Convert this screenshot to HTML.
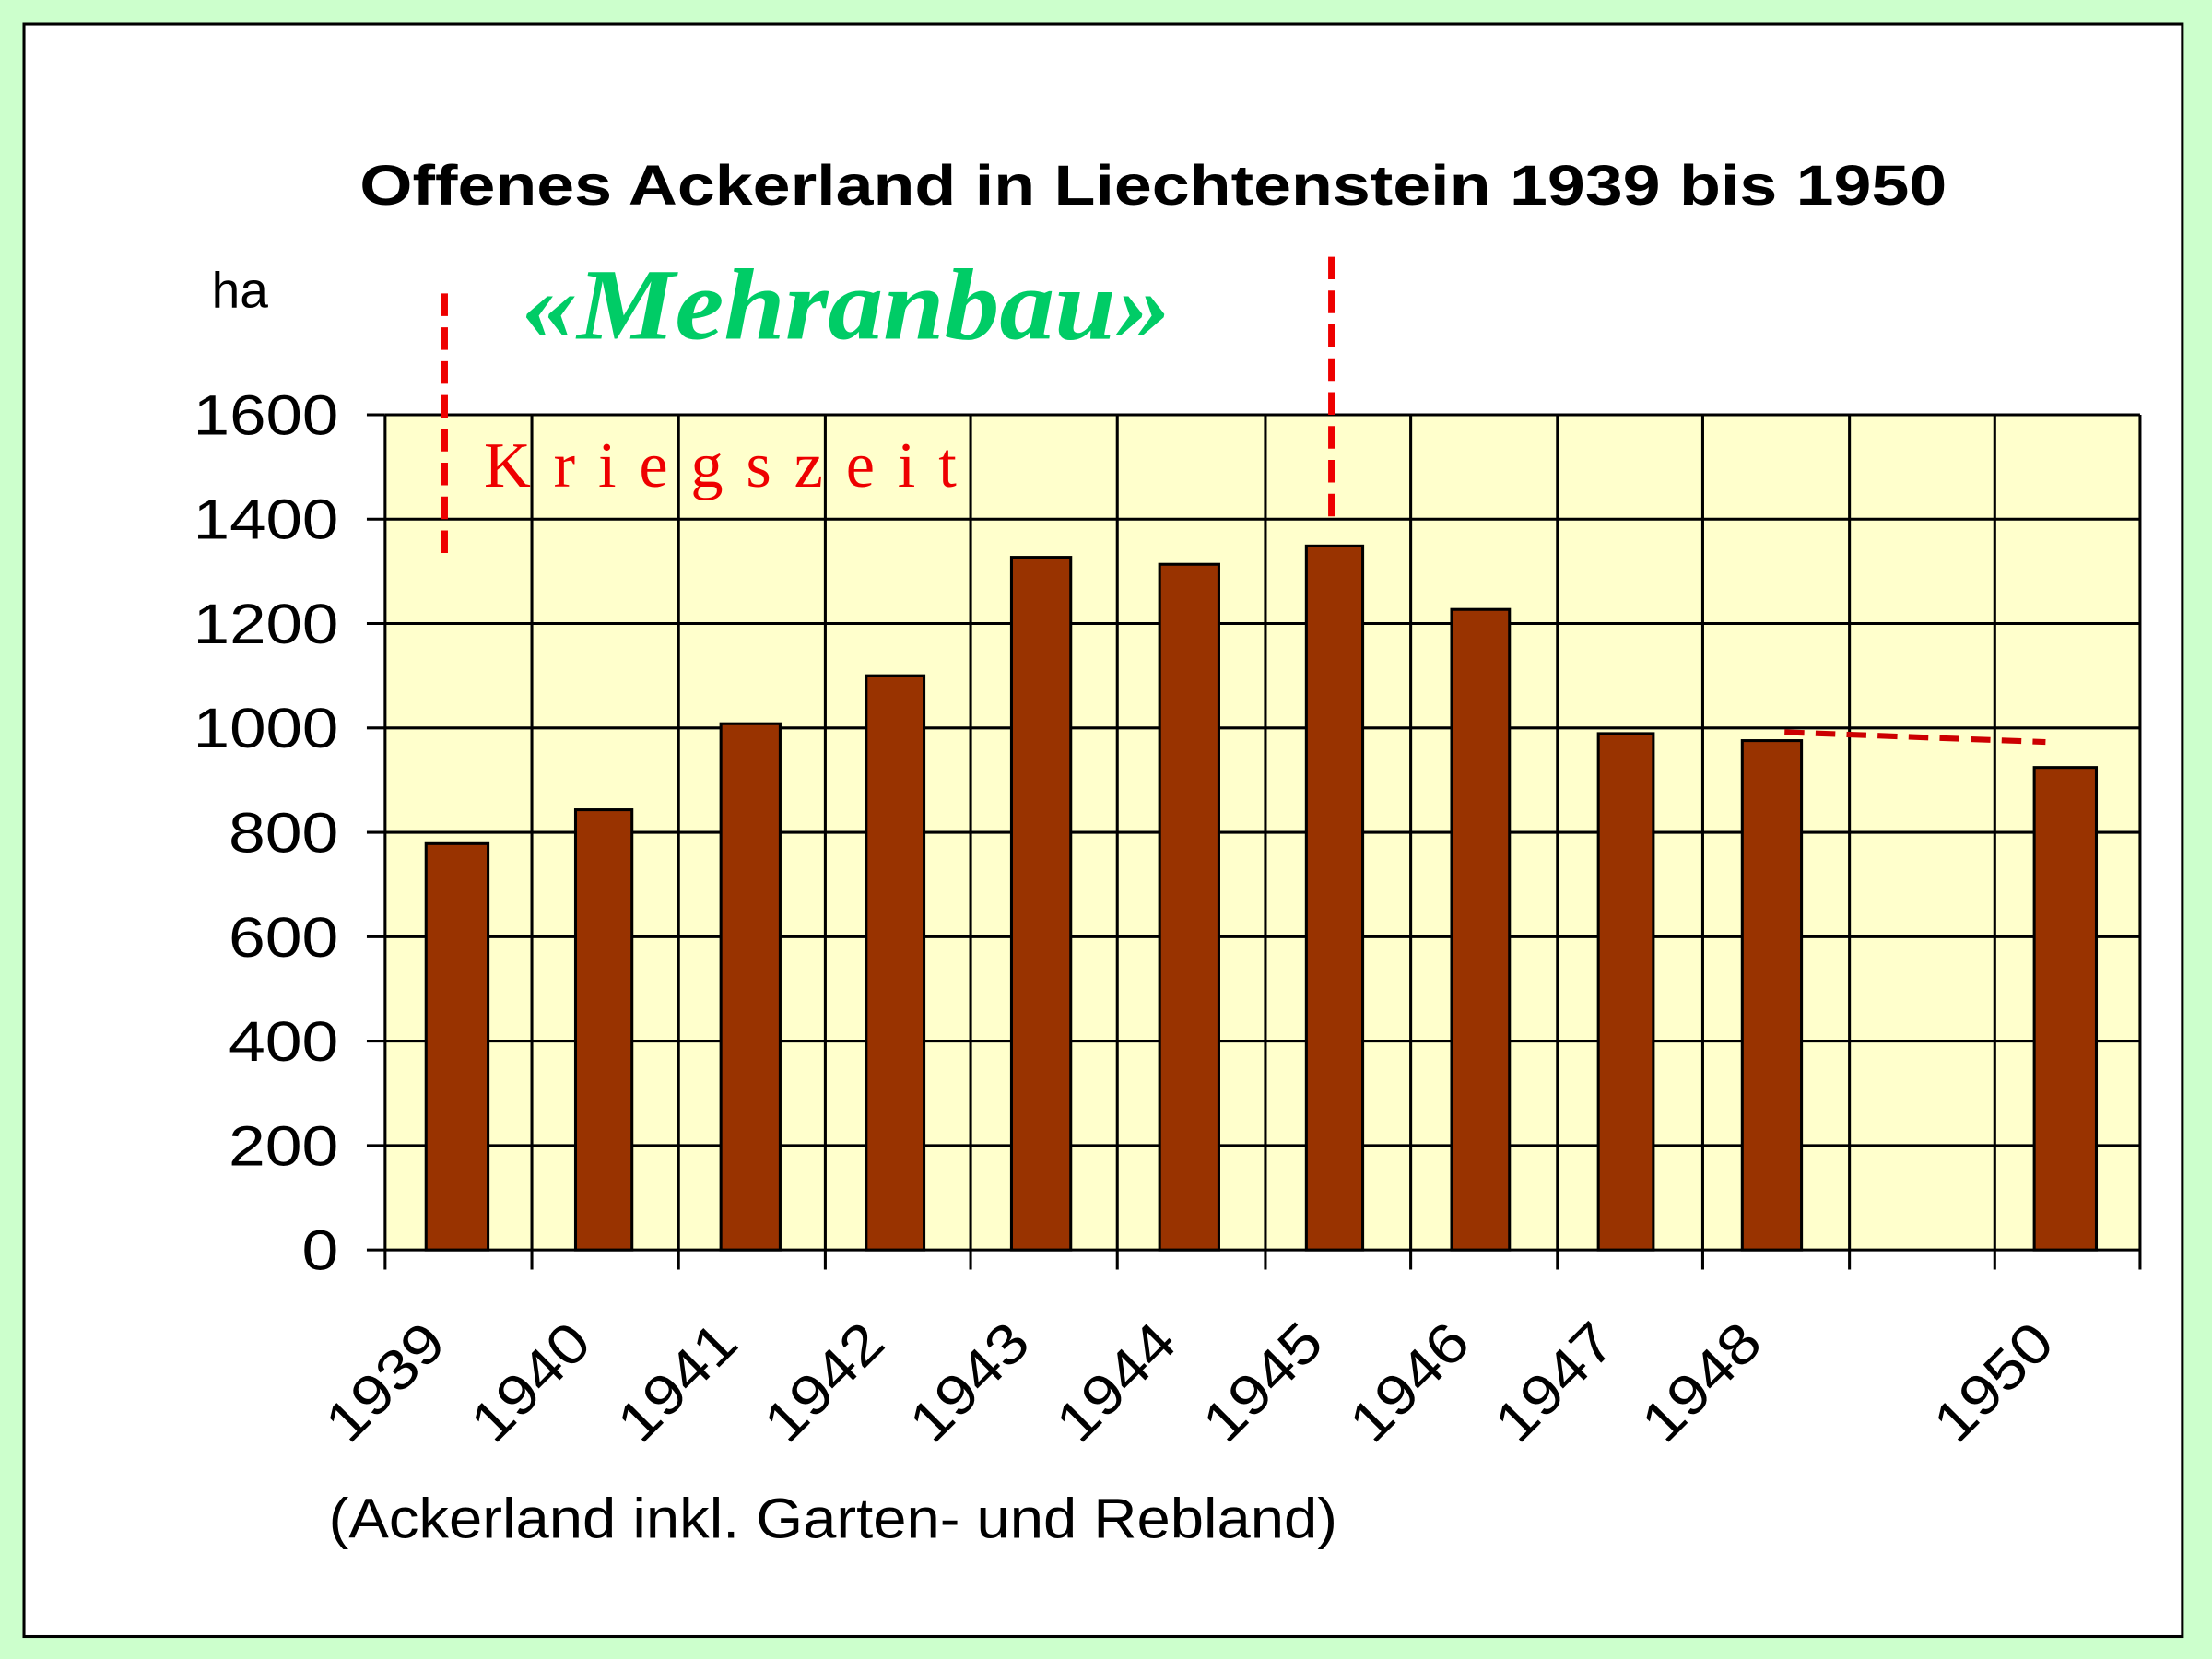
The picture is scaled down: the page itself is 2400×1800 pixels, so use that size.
<!DOCTYPE html>
<html><head><style>html,body{margin:0;padding:0;background:#ccffcc}svg{display:block}</style></head>
<body>
<svg width="2400" height="1800" viewBox="0 0 1568 1176" xmlns="http://www.w3.org/2000/svg" font-family="Liberation Sans, Arial, sans-serif">
<rect x="0" y="0" width="1568" height="1176" fill="#ccffcc"/>
<rect x="17" y="17" width="1530" height="1143" fill="#fff" stroke="#000" stroke-width="2"/>
<rect x="273" y="294" width="1244" height="592" fill="#ffffcc"/>
<g stroke="#000" stroke-width="2">
<line x1="273" y1="294" x2="1517" y2="294"/>
<line x1="273" y1="368" x2="1517" y2="368"/>
<line x1="273" y1="442" x2="1517" y2="442"/>
<line x1="273" y1="516" x2="1517" y2="516"/>
<line x1="273" y1="590" x2="1517" y2="590"/>
<line x1="273" y1="664" x2="1517" y2="664"/>
<line x1="273" y1="738" x2="1517" y2="738"/>
<line x1="273" y1="812" x2="1517" y2="812"/>
<line x1="273" y1="886" x2="1517" y2="886"/>
<line x1="273" y1="294" x2="273" y2="900"/>
<line x1="377" y1="294" x2="377" y2="900"/>
<line x1="481" y1="294" x2="481" y2="900"/>
<line x1="585" y1="294" x2="585" y2="900"/>
<line x1="688" y1="294" x2="688" y2="900"/>
<line x1="792" y1="294" x2="792" y2="900"/>
<line x1="897" y1="294" x2="897" y2="900"/>
<line x1="1000" y1="294" x2="1000" y2="900"/>
<line x1="1104" y1="294" x2="1104" y2="900"/>
<line x1="1207" y1="294" x2="1207" y2="900"/>
<line x1="1311" y1="294" x2="1311" y2="900"/>
<line x1="1414" y1="294" x2="1414" y2="900"/>
<line x1="1517" y1="294" x2="1517" y2="900"/>
<line x1="260" y1="294" x2="273" y2="294"/><line x1="260" y1="368" x2="273" y2="368"/><line x1="260" y1="442" x2="273" y2="442"/><line x1="260" y1="516" x2="273" y2="516"/><line x1="260" y1="590" x2="273" y2="590"/><line x1="260" y1="664" x2="273" y2="664"/><line x1="260" y1="738" x2="273" y2="738"/><line x1="260" y1="812" x2="273" y2="812"/><line x1="260" y1="886" x2="273" y2="886"/>
</g>
<g fill="#993300" stroke="#000" stroke-width="2">
<rect x="302" y="598" width="44" height="288"/>
<rect x="408" y="574" width="40" height="312"/>
<rect x="511" y="513" width="42" height="373"/>
<rect x="614" y="479" width="41" height="407"/>
<rect x="717" y="395" width="42" height="491"/>
<rect x="822" y="400" width="42" height="486"/>
<rect x="926" y="387" width="40" height="499"/>
<rect x="1029" y="432" width="41" height="454"/>
<rect x="1133" y="520" width="39" height="366"/>
<rect x="1235" y="525" width="42" height="361"/>
<rect x="1442" y="544" width="44" height="342"/>
</g>
<g font-size="40" fill="#000">
<text x="137" y="308" textLength="103" lengthAdjust="spacingAndGlyphs">1600</text>
<text x="137" y="382" textLength="103" lengthAdjust="spacingAndGlyphs">1400</text>
<text x="137" y="456" textLength="103" lengthAdjust="spacingAndGlyphs">1200</text>
<text x="137" y="530" textLength="103" lengthAdjust="spacingAndGlyphs">1000</text>
<text x="162" y="604" textLength="78" lengthAdjust="spacingAndGlyphs">800</text>
<text x="162" y="678" textLength="78" lengthAdjust="spacingAndGlyphs">600</text>
<text x="162" y="752" textLength="78" lengthAdjust="spacingAndGlyphs">400</text>
<text x="162" y="826" textLength="78" lengthAdjust="spacingAndGlyphs">200</text>
<text x="214" y="900" textLength="26" lengthAdjust="spacingAndGlyphs">0</text>
</g>
<g font-size="40" fill="#000">
<text transform="translate(318,954) rotate(-45)" x="-100" textLength="100" lengthAdjust="spacingAndGlyphs">1939</text>
<text transform="translate(421,954) rotate(-45)" x="-100" textLength="100" lengthAdjust="spacingAndGlyphs">1940</text>
<text transform="translate(525,954) rotate(-45)" x="-100" textLength="100" lengthAdjust="spacingAndGlyphs">1941</text>
<text transform="translate(629,954) rotate(-45)" x="-100" textLength="100" lengthAdjust="spacingAndGlyphs">1942</text>
<text transform="translate(732,954) rotate(-45)" x="-100" textLength="100" lengthAdjust="spacingAndGlyphs">1943</text>
<text transform="translate(836,954) rotate(-45)" x="-100" textLength="100" lengthAdjust="spacingAndGlyphs">1944</text>
<text transform="translate(940,954) rotate(-45)" x="-100" textLength="100" lengthAdjust="spacingAndGlyphs">1945</text>
<text transform="translate(1044,954) rotate(-45)" x="-100" textLength="100" lengthAdjust="spacingAndGlyphs">1946</text>
<text transform="translate(1147,954) rotate(-45)" x="-100" textLength="100" lengthAdjust="spacingAndGlyphs">1947</text>
<text transform="translate(1251,954) rotate(-45)" x="-100" textLength="100" lengthAdjust="spacingAndGlyphs">1948</text>
<text transform="translate(1458,954) rotate(-45)" x="-100" textLength="100" lengthAdjust="spacingAndGlyphs">1950</text>
</g>
<text x="255" y="145" font-size="40" font-weight="bold" textLength="1125" lengthAdjust="spacingAndGlyphs">Offenes Ackerland in Liechtenstein 1939 bis 1950</text>
<text x="150" y="218" font-size="36">ha</text>
<text x="370" y="240" font-size="72" font-weight="bold" font-style="italic" font-family="Liberation Serif, serif" fill="#00cc66" textLength="460" lengthAdjust="spacingAndGlyphs">«Mehranbau»</text>
<text x="343" y="345" font-size="46" font-family="Liberation Serif, serif" fill="#ee0000" textLength="335" lengthAdjust="spacing">Kriegszeit</text>
<line x1="315" y1="208" x2="315" y2="392" stroke="#ee0000" stroke-width="5" stroke-dasharray="16,8"/>
<line x1="944" y1="182" x2="944" y2="366" stroke="#ee0000" stroke-width="5" stroke-dasharray="16,8"/>
<line x1="1265" y1="519" x2="1450" y2="526" stroke="#cc0000" stroke-width="4" stroke-dasharray="14,8"/>
<text x="233" y="1090" font-size="40" textLength="715" lengthAdjust="spacingAndGlyphs">(Ackerland inkl. Garten- und Rebland)</text>
</svg>
</body></html>
